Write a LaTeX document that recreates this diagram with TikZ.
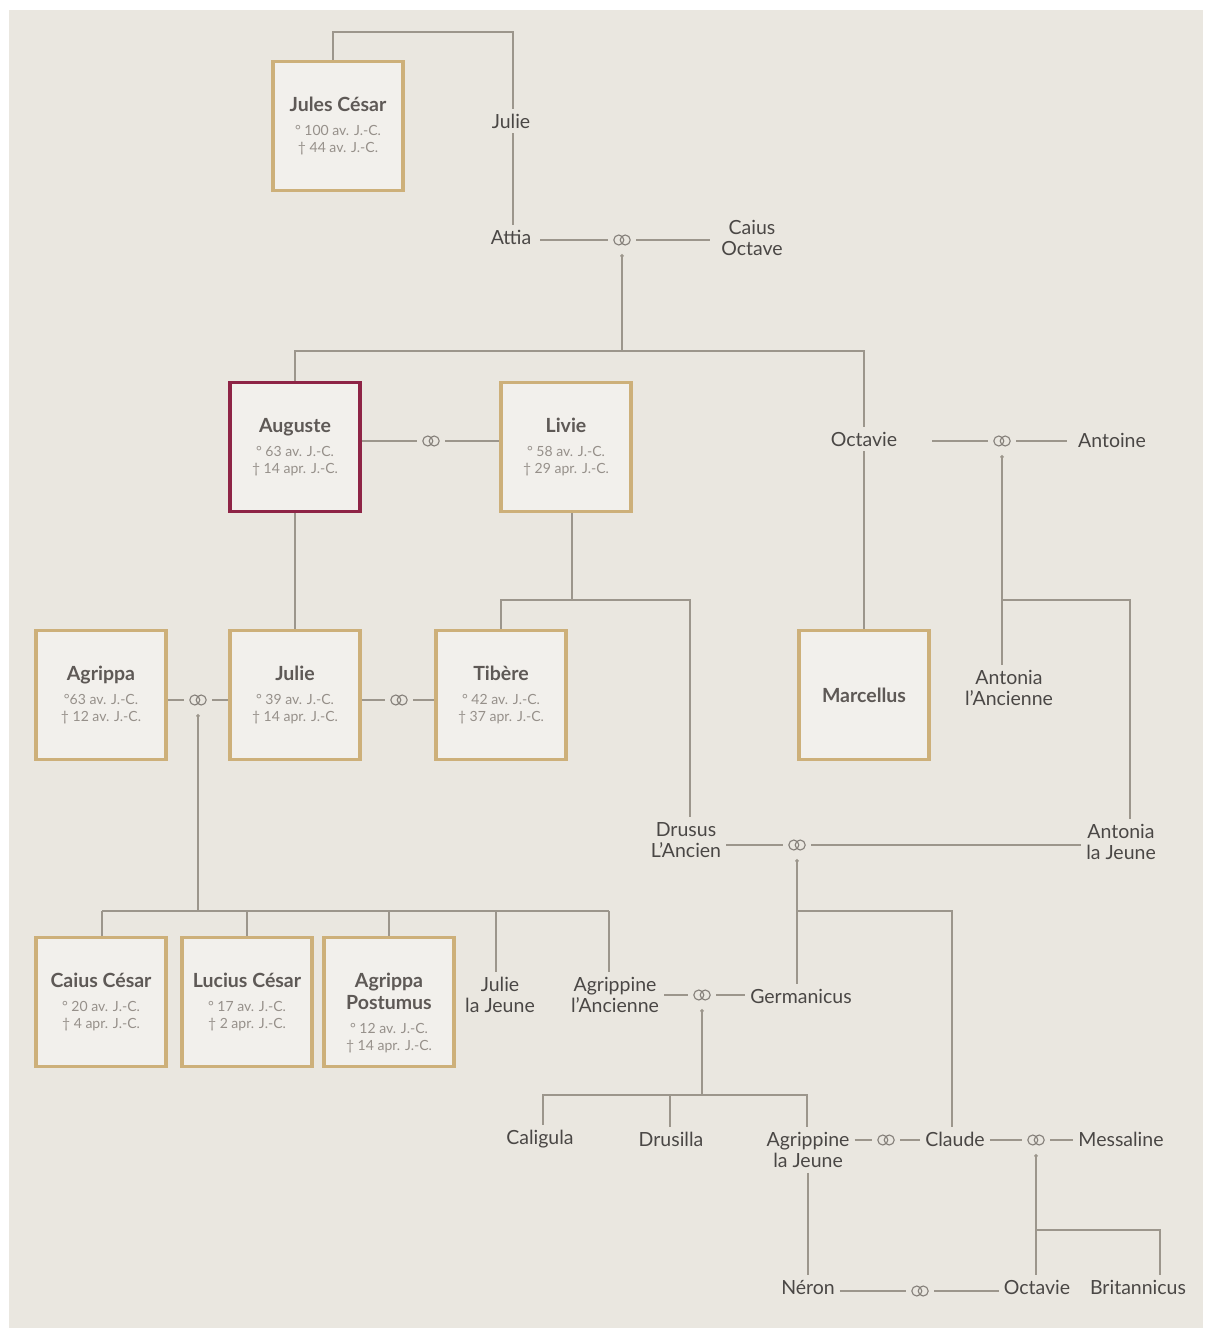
\documentclass[tikz,border=0pt]{standalone}
\usepackage{fontspec}
\setmainfont{Lato}
\usetikzlibrary{arrows.meta}
\definecolor{bg}{HTML}{EAE7E0}
\definecolor{gold}{HTML}{CDB07A}
\definecolor{crim}{HTML}{8E2446}
\definecolor{boxfill}{HTML}{F2F0EC}
\definecolor{lnc}{HTML}{9C968C}
\definecolor{txt}{HTML}{4A4745}
\definecolor{boxtxt}{HTML}{5E5956}
\definecolor{datetxt}{HTML}{96908A}
\definecolor{ringc}{HTML}{85807A}
\newcommand\nm[1]{{\fontsize{19.5}{21}\selectfont\bfseries\color{boxtxt}#1}}
\tikzset{
  person/.style={rectangle, draw=gold, line width=3.5pt, fill=boxfill,
    minimum width=130pt, minimum height=129pt, align=center, inner sep=0pt,
    font=\fontsize{14}{17}\selectfont, text=datetxt},
  pname/.style={align=center, font=\fontsize{19.5}{21}\selectfont, text=txt, inner sep=5pt},
  ring/.style={circle, minimum size=28pt, inner sep=0pt,
    path picture={\draw[ringc, line width=1.1pt]
      ([xshift=-3.2pt]path picture bounding box.center) circle (5pt)
      ([xshift=3.2pt]path picture bounding box.center) circle (5pt);}},
  conn/.style={draw=lnc, line width=1.2pt},
  child/.style={conn, {Circle[length=3.5pt]}-}
}
\begin{document}
\begin{tikzpicture}[x=1pt,y=-1pt]
\useasboundingbox (0,0) rectangle (1208,1332);
\fill[white] (0,0) rectangle (1208,1332);
\fill[bg] (9,10) rectangle (1203,1328);

% ---- nodes ----
\node[person] (jc) at (338,126) {\nm{Jules César}\\[7pt]° 100 av. J.-C.\\† 44 av. J.-C.};
\node[pname] (julie1) at (511,121) {Julie};
\node[pname] (attia) at (511,237) {Attia};
\node[ring] (r1) at (622,240) {};
\node[pname] (caius) at (752,238) {Caius\\Octave};

\node[person, draw=crim] (aug) at (295,447) {\nm{Auguste}\\[7pt]° 63 av. J.-C.\\† 14 apr. J.-C.};
\node[ring] (r2) at (431,441) {};
\node[person] (livie) at (566,447) {\nm{Livie}\\[7pt]° 58 av. J.-C.\\† 29 apr. J.-C.};
\node[pname] (oct1) at (864,439) {Octavie};
\node[ring] (r3) at (1002,441) {};
\node[pname] (antoine) at (1112,440) {Antoine};

\node[person] (agr) at (101,695) {\nm{Agrippa}\\[7pt]°63 av. J.-C.\\† 12 av. J.-C.};
\node[ring] (r4) at (198,700) {};
\node[person] (julie2) at (295,695) {\nm{Julie}\\[7pt]° 39 av. J.-C.\\† 14 apr. J.-C.};
\node[ring] (r5) at (399,700) {};
\node[person] (tib) at (501,695) {\nm{Tibère}\\[7pt]° 42 av. J.-C.\\† 37 apr. J.-C.};
\node[person] (marc) at (864,695) {\nm{Marcellus}};
\node[pname] (anta) at (1009,688) {Antonia\\l’Ancienne};

\node[pname] (drusus) at (686,840) {Drusus\\L’Ancien};
\node[ring] (r6) at (797,845) {};
\node[pname] (antj) at (1121,842) {Antonia\\la Jeune};

\node[person] (ccesar) at (101,1002) {\nm{Caius César}\\[7pt]° 20 av. J.-C.\\† 4 apr. J.-C.};
\node[person] (lcesar) at (247,1002) {\nm{Lucius César}\\[7pt]° 17 av. J.-C.\\† 2 apr. J.-C.};
\node[person] (apost) at (389,1002) {\rule{0pt}{36pt}\nm{Agrippa}\\[3pt]\nm{Postumus}\\[7pt]° 12 av. J.-C.\\† 14 apr. J.-C.};
\node[pname] (jullj) at (500,995) {Julie\\la Jeune};
\node[pname] (agrAnc) at (615,995) {Agrippine\\l’Ancienne};
\node[ring] (r7) at (702,995) {};
\node[pname] (germ) at (801,996) {Germanicus};

\node[pname] (calig) at (540,1139) {Caligula};
\node[pname] (drusil) at (671,1139) {Drusilla};
\node[pname] (agrJ) at (808,1150) {Agrippine\\la Jeune};
\node[ring] (r8) at (886,1140) {};
\node[pname] (claude) at (955,1139) {Claude};
\node[ring] (r9) at (1036,1140) {};
\node[pname] (mess) at (1121,1139) {Messaline};

\node[pname] (neron) at (808,1287) {Néron};
\node[ring] (r10) at (920,1291) {};
\node[pname] (octv2) at (1037,1287) {Octavie};
\node[pname] (brit) at (1138,1287) {Britannicus};

% ---- coordinates ----
\coordinate (t0) at (333,32);
\coordinate (t1) at (513,32);
\coordinate (b1) at (622,351);
\coordinate (b2) at (572,600);
\coordinate (b2l) at (501,600);
\coordinate (b2r) at (690,600);
\coordinate (b3) at (1002,600);
\coordinate (b3r) at (1130,600);
\coordinate (b4) at (198,911);
\coordinate (b4l) at (102,911);
\coordinate (b4j) at (496,911);
\coordinate (b4r) at (609,911);
\coordinate (b5) at (797,911);
\coordinate (b5r) at (952,911);
\coordinate (b6) at (702,1095);
\coordinate (b6l) at (543,1095);
\coordinate (b6m) at (670,1095);
\coordinate (b6r) at (807,1095);
\coordinate (b7) at (1036,1230);
\coordinate (b7r) at (1160,1230);

% ---- connectors ----
\draw[conn] (jc.north -| t0) -- (t0) -- (t1) -- (julie1.north -| t1);
\draw[conn] (julie1.south -| t1) -- (attia.north -| t1);
\draw[conn] ([xshift=4pt]attia.east |- r1) -- (r1.west);
\draw[conn] (r1.east) -- ([xshift=-6pt]caius.west |- r1);
\draw[child] (r1.south) -- (b1);
\draw[conn] (aug.north) |- (b1) -| (oct1.north);

\draw[conn] (aug.east |- r2) -- (r2.west);
\draw[conn] (r2.east) -- (livie.west |- r2);
\draw[conn] ([xshift=30pt]oct1.east |- r3) -- (r3.west);
\draw[conn] (r3.east) -- ([xshift=-6pt]antoine.west |- r3);

\draw[conn] (livie.south -| b2) -- (b2);
\draw[conn] (tib.north) -- (b2l) -- (b2r) -- (drusus.north -| b2r);
\draw[conn] (aug.south) -- (julie2.north);
\draw[conn] (oct1.south) -- (marc.north);
\draw[child] (r3.south) -- (anta.north -| r3);
\draw[conn] (b3) -- (b3r) -- (antj.north -| b3r);

\draw[conn] (agr.east |- r4) -- (r4.west);
\draw[conn] (r4.east) -- (julie2.west |- r4);
\draw[conn] (julie2.east |- r5) -- (r5.west);
\draw[conn] (r5.east) -- (tib.west |- r5);

\draw[child] (r4.south) -- (b4);
\draw[conn] (b4l) -- (b4r);
\draw[conn] (b4l) -- (ccesar.north -| b4l);
\draw[conn] (lcesar.north |- b4) -- (lcesar.north);
\draw[conn] (apost.north |- b4) -- (apost.north);
\draw[conn] (b4j) -- (jullj.north -| b4j);
\draw[conn] (b4r) -- (agrAnc.north -| b4r);

\draw[conn] (drusus.east |- r6) -- (r6.west);
\draw[conn] (r6.east) -- (antj.west |- r6);
\draw[child] (r6.south) -- (germ.north -| r6);
\draw[conn] (b5) -- (b5r) -- (claude.north -| b5r);

\draw[conn] (agrAnc.east |- r7) -- (r7.west);
\draw[conn] (r7.east) -- (germ.west |- r7);
\draw[child] (r7.south) -- (b6);
\draw[conn] (calig.north -| b6l) -- (b6l) -- (b6r) -- (agrJ.north -| b6r);
\draw[conn] (b6m) -- (drusil.north -| b6m);

\draw[conn] (agrJ.east |- r8) -- (r8.west);
\draw[conn] (r8.east) -- (claude.west |- r8);
\draw[conn] (claude.east |- r9) -- (r9.west);
\draw[conn] (r9.east) -- (mess.west |- r9);
\draw[child] (r9.south) -- (octv2.north -| r9);
\draw[conn] (b7) -- (b7r) -- (brit.north -| b7r);

\draw[conn] (agrJ.south) -- (neron.north);
\draw[conn] (neron.east |- r10) -- (r10.west);
\draw[conn] (r10.east) -- (octv2.west |- r10);
\end{tikzpicture}
\end{document}
